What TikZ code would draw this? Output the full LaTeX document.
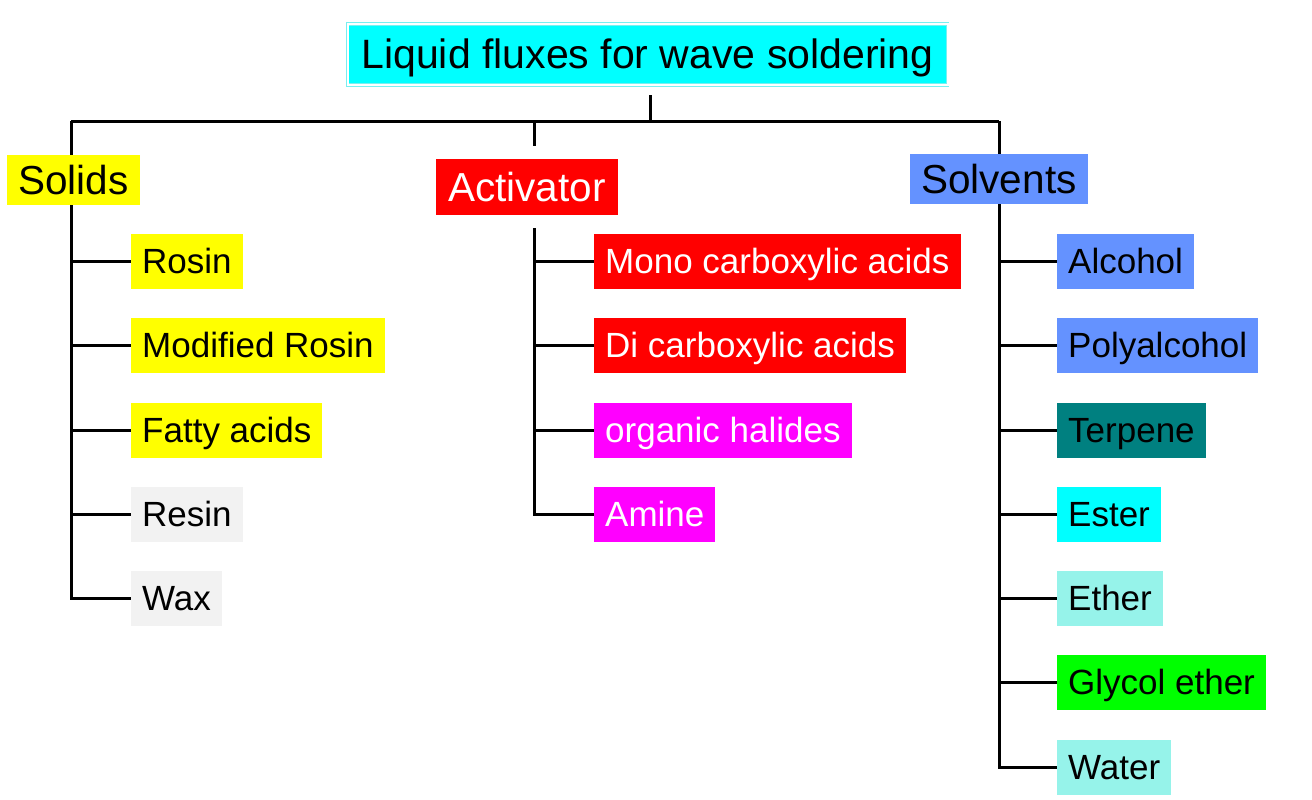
\documentclass[tikz,border=0pt]{standalone}
\usepackage{fontspec}
\setmainfont{Liberation Sans}
\usetikzlibrary{backgrounds,calc}
\definecolor{cyanT}{RGB}{0,255,255}
\definecolor{cyanL}{RGB}{120,240,240}
\definecolor{yel}{RGB}{255,255,0}
\definecolor{redB}{RGB}{255,0,0}
\definecolor{blueB}{RGB}{100,146,255}
\definecolor{magB}{RGB}{255,0,255}
\definecolor{grayB}{RGB}{242,242,242}
\definecolor{tealB}{RGB}{0,128,128}
\definecolor{aquaB}{RGB}{150,243,234}
\definecolor{greenB}{RGB}{0,255,0}
\tikzset{
  conn/.style={line width=3pt, black},
  head/.style={anchor=west, inner xsep=11pt, inner ysep=0pt, text height=33pt, text depth=4pt,
    font=\fontsize{40.5}{44}\selectfont},
  item/.style={anchor=west, inner xsep=11pt, inner ysep=0pt, minimum height=55pt,
    text height=28pt, text depth=4pt, font=\fontsize{35}{40}\selectfont},
}
\begin{document}
\begin{tikzpicture}[x=1pt,y=-1pt]
\useasboundingbox (0,0) rectangle (1312,800);
% title
\node[fill=cyanT, draw=cyanL, line width=0.9pt, double=white, double distance=2pt,
  minimum width=600pt, minimum height=61pt, inner sep=0pt,
  text height=33pt, text depth=4pt, font=\fontsize{41}{46}\selectfont] (title) at (647.5,54.5) {Liquid fluxes for wave soldering};
% headings
\node[head, fill=yel, minimum height=50pt] (solids) at (7,180) {Solids};
\node[head, fill=redB, text=white, minimum height=56pt, inner xsep=12pt] (act) at (436,187) {Activator};
\node[head, fill=blueB, minimum height=50pt] (solv) at (910,179) {Solvents};
% solids items
\node[item, fill=yel] (rosin) at (131,261) {Rosin};
\node[item, fill=yel] (modr) at (131,345.5) {Modified Rosin};
\node[item, fill=yel] (fatty) at (131,430) {Fatty acids};
\node[item, fill=grayB] (resin) at (131,514) {Resin};
\node[item, fill=grayB] (wax) at (131,598.5) {Wax};
% activator items
\node[item, fill=redB, text=white] (mono) at (594,261) {Mono carboxylic acids};
\node[item, fill=redB, text=white] (di) at (594,345.5) {Di carboxylic acids};
\node[item, fill=magB, text=white] (org) at (594,430) {organic halides};
\node[item, fill=magB, text=white] (amine) at (594,514) {Amine};
% solvent items
\node[item, fill=blueB] (alc) at (1057,261) {Alcohol};
\node[item, fill=blueB] (poly) at (1057,345.5) {Polyalcohol};
\node[item, fill=tealB] (terp) at (1057,430) {Terpene};
\node[item, fill=cyanT] (ester) at (1057,514) {Ester};
\node[item, fill=aquaB] (ether) at (1057,598.5) {Ether};
\node[item, fill=greenB] (glyc) at (1057,682.5) {Glycol ether};
\node[item, fill=aquaB] (water) at (1057,767) {Water};
% coordinates
\coordinate (tdrop) at (650,95);
\coordinate (tbus) at (650,121);
\coordinate (sb) at (71,121);
\coordinate (ab) at (534,121);
\coordinate (vb) at (999,121);
\coordinate (atop) at (534,146);
\coordinate (abot) at (534,228);
\begin{scope}[on background layer]
\draw[conn] (tdrop) -- (tbus);
\draw[conn] (sb) -- (vb);
\draw[conn] (sb) |- (wax.west);
\foreach \n in {rosin,modr,fatty,resin} \draw[conn] (sb |- \n.west) -- (\n.west);
\draw[conn] (ab) -- (atop);
\draw[conn] (abot) |- (amine.west);
\foreach \n in {mono,di,org} \draw[conn] (ab |- \n.west) -- (\n.west);
\draw[conn] (vb) |- (water.west);
\foreach \n in {alc,poly,terp,ester,ether,glyc} \draw[conn] (vb |- \n.west) -- (\n.west);
\end{scope}
\end{tikzpicture}
\end{document}
